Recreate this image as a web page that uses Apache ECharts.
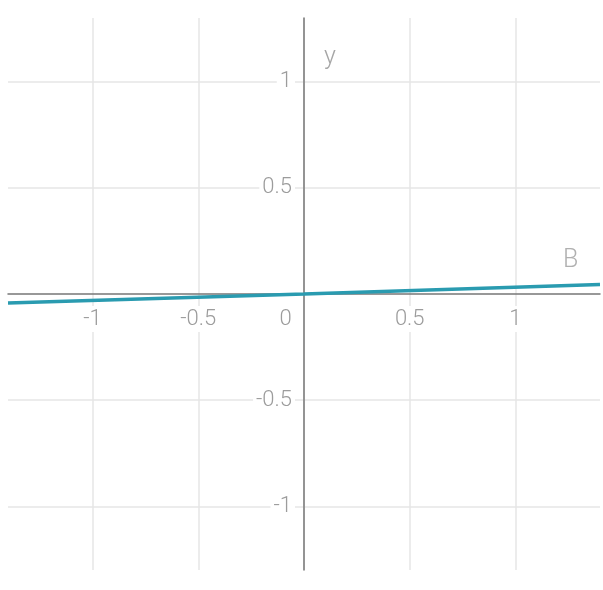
<!DOCTYPE html>
<html><head><meta charset="utf-8">
<script src="https://cdn.jsdelivr.net/npm/echarts@6/dist/echarts.min.js"></script>
<style>html,body{margin:0;padding:0;background:#fff}#c{width:603px;height:590px}</style>
</head><body><div id="c"></div>
<script>
const xTicks = [-1, -0.5, 0, 0.5, 1];
const yTicks = [-1, -0.5, 0.5, 1];
const lineB = [[-1.4, -0.042], [0, 0], [1.4, 0.045]];
const seriesName = 'B';
const yName = 'y';

const chart = echarts.init(document.getElementById('c'));
const txt = {color: '#9c9c9c', fontSize: 22, fontFamily: 'Roboto', fontWeight: 300};
const lab = Object.assign({}, txt, {backgroundColor: '#fff', padding: [2, 3]});
const G = {left: 8, right: 3, top: 18, bottom: 20};
chart.setOption({
  animation: false,
  grid: {left: G.left, right: G.right, top: G.top, bottom: G.bottom, containLabel: false, outerBoundsMode: 'none'},
  xAxis: {
    type: 'value', min: -1.4, max: 1.4, z: 5, position: 'bottom',
    axisLine: {onZero: false, lineStyle: {color: '#777', width: 1.5}},
    axisTick: {show: false, customValues: xTicks},
    splitLine: {show: true, lineStyle: {color: '#e6e6e6', width: 1.5}},
    axisLabel: {
      customValues: xTicks, margin: 12,
      formatter: v => v === 0 ? '{a|0}{s|}' : '{a|' + v + '}',
      rich: {a: lab, s: {width: 37, fontSize: 22}}
    }
  },
  yAxis: {
    type: 'value', min: -1.3, max: 1.3, z: 5, position: 'left',
    axisLine: {onZero: false, lineStyle: {color: '#777', width: 1.5}},
    axisTick: {show: false, customValues: yTicks},
    splitLine: {show: true, lineStyle: {color: '#e6e6e6', width: 1.5}},
    axisLabel: Object.assign({}, lab, {customValues: yTicks, margin: 9})
  },
  series: [{
    type: 'line', name: seriesName, data: lineB, symbol: 'none', z: 10,
    lineStyle: {color: '#2a9bb0', width: 3.5}
  }]
});
const p0 = chart.convertToPixel({gridIndex: 0}, [0, 0]);
const H = 590, W = 603;
chart.setOption({
  xAxis: {offset: -((H - G.bottom) - p0[1])},
  yAxis: {offset: -(p0[0] - G.left)}
});
const pY = chart.convertToPixel({gridIndex: 0}, [0, 1.3]);
const pB = chart.convertToPixel({gridIndex: 0}, [1.4, 0.045]);
chart.setOption({graphic: [
  {type: 'text', left: pY[0] + 20, top: pY[1] + 27, style: {text: yName, fill: '#a6a6a6', fontSize: 25, fontFamily: 'Roboto', fontWeight: 300}},
  {type: 'text', left: pB[0] - 37, top: pB[1] - 36, style: {text: seriesName, fill: '#b0b0b0', fontSize: 25, fontFamily: 'Roboto', fontWeight: 300}}
]});
</script></body></html>
